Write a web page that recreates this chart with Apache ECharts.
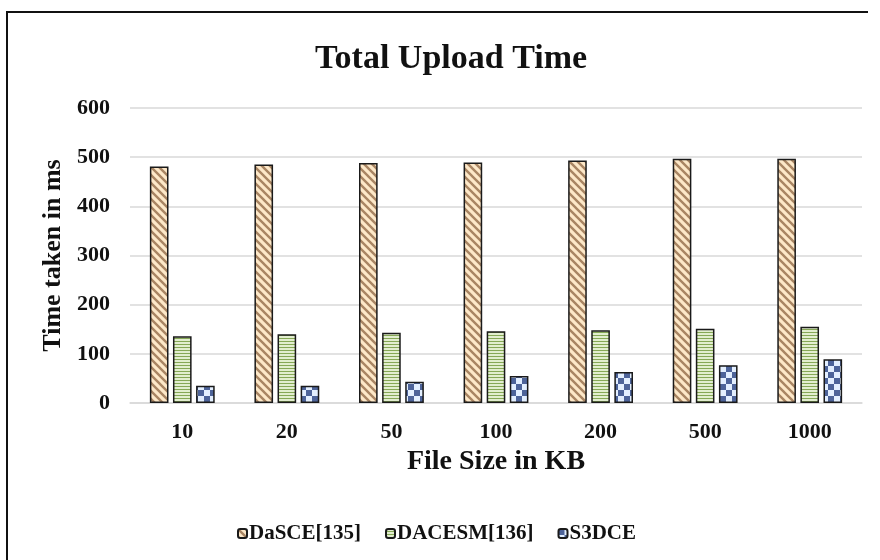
<!DOCTYPE html>
<html>
<head>
<meta charset="utf-8">
<script src="https://cdn.jsdelivr.net/npm/echarts@6/dist/echarts.min.js"></script>
<style>
  html, body { margin: 0; padding: 0; background: #fff; }
  #chart { width: 880px; height: 560px; }
</style>
</head>
<body>
<div id="chart"></div>
<script>
const fileSizes = ['10', '20', '50', '100', '200', '500', '1000']
const dasce = [481, 485, 488, 489, 493, 497, 497]
const dacesm = [136, 140, 143, 146, 148, 151, 155]
const s3dce = [35, 35, 43, 55, 63, 77, 89]

// little canvas tiles for the excel-like fill patterns
function tile (w, h, draw) {
  const c = document.createElement('canvas')
  c.width = w
  c.height = h
  draw(c.getContext('2d'))
  return { image: c, repeat: 'repeat' }
}
const stripes = tile(8, 8, ctx => {
  ctx.fillStyle = '#fde8c8'
  ctx.fillRect(0, 0, 8, 8)
  ctx.strokeStyle = '#a98563'
  ctx.lineWidth = 2.4
  ctx.beginPath()
  ctx.moveTo(-2, -2); ctx.lineTo(10, 10)
  ctx.moveTo(-10, -2); ctx.lineTo(2, 10)
  ctx.moveTo(6, -2); ctx.lineTo(18, 10)
  ctx.stroke()
})
const hlines = tile(4, 3, ctx => {
  ctx.fillStyle = '#e2eecf'
  ctx.fillRect(0, 0, 4, 3)
  ctx.fillStyle = '#86a856'
  ctx.fillRect(0, 2, 4, 1)
})
const checks = tile(12, 12, ctx => {
  ctx.fillStyle = '#e3efff'
  ctx.fillRect(0, 0, 12, 12)
  ctx.fillStyle = '#4d6399'
  ctx.fillRect(0, 0, 6, 6)
  ctx.fillRect(6, 6, 6, 6)
})

const serif = '"Liberation Serif", "DejaVu Serif", serif'
const myChart = echarts.init(document.getElementById('chart'))
const barStyle = fill => ({ color: fill, borderColor: '#1a1a1a', borderWidth: 1.5 })

const option = {
  animation: false,
  textStyle: { fontFamily: serif },
  title: {
    text: 'Total Upload Time',
    left: 310,
    top: 37,
    textStyle: { fontFamily: serif, fontSize: 34, fontWeight: 'bold', color: '#111' }
  },
  grid: { left: 130, right: 18, top: 108, bottom: 157 },
  legend: {
    top: 518,
    left: 232,
    itemWidth: 9,
    itemHeight: 9,
    itemGap: 24,
    textStyle: { fontFamily: serif, fontSize: 21, fontWeight: 'bold', color: '#111', padding: [0, 0, 0, -3] },
    data: ['DaSCE[135]', 'DACESM[136]', 'S3DCE']
  },
  xAxis: {
    type: 'category',
    data: fileSizes,
    name: 'File Size in KB',
    nameLocation: 'middle',
    nameGap: 42,
    nameTextStyle: { fontFamily: serif, fontSize: 28, fontWeight: 'bold', color: '#111' },
    axisLine: { lineStyle: { color: '#d9d9d9', width: 1.5 } },
    axisTick: { show: false },
    axisLabel: { fontFamily: serif, fontSize: 22, fontWeight: 'bold', color: '#111', margin: 18 }
  },
  yAxis: {
    type: 'value',
    min: 0,
    max: 600,
    interval: 100,
    name: 'Time taken in ms',
    nameLocation: 'middle',
    nameGap: 60,
    nameTextStyle: { fontFamily: serif, fontSize: 26, fontWeight: 'bold', color: '#111' },
    axisLine: { show: false },
    axisTick: { show: false },
    axisLabel: { fontFamily: serif, fontSize: 22, fontWeight: 'bold', color: '#111', margin: 20 },
    splitLine: { lineStyle: { color: '#d9d9d9', width: 1.5 } }
  },
  series: [
    { name: 'DaSCE[135]', type: 'bar', data: dasce, barGap: '24%', barCategoryGap: '38%', itemStyle: barStyle(stripes) },
    { name: 'DACESM[136]', type: 'bar', data: dacesm, itemStyle: barStyle(hlines) },
    { name: 'S3DCE', type: 'bar', data: s3dce, itemStyle: barStyle(checks) }
  ],
  graphic: [
    {
      type: 'polyline',
      shape: { points: [[7, 600], [7, 12], [868, 12]] },
      style: { fill: 'none', stroke: '#111', lineWidth: 2 },
      silent: true
    }
  ]
}
myChart.setOption(option)
</script>
</body>
</html>
